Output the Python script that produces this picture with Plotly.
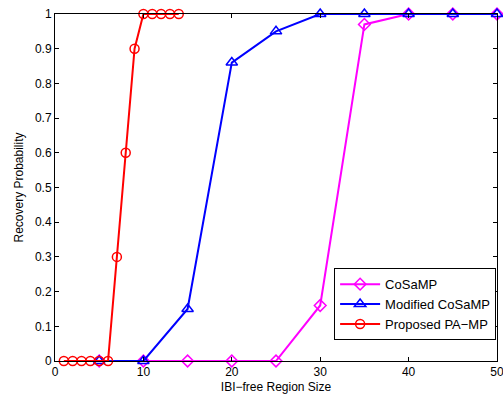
import plotly.graph_objects as go

x_cosamp = [5, 10, 15, 20, 25, 30, 35, 40, 45, 50]
y_cosamp = [0, 0, 0, 0, 0, 0.16, 0.97, 1, 1, 1]
x_mod = [5, 10, 15, 20, 25, 30, 35, 40, 45, 50]
y_mod = [0, 0, 0.15, 0.86, 0.95, 1, 1, 1, 1, 1]
x_pamp = [1, 2, 3, 4, 5, 6, 7, 8, 9, 10, 11, 12, 13, 14]
y_pamp = [0, 0, 0, 0, 0, 0, 0.3, 0.6, 0.9, 1, 1, 1, 1, 1]

fig = go.Figure()
fig.add_trace(go.Scatter(x=x_cosamp, y=y_cosamp, mode="lines+markers", name="CoSaMP",
                         cliponaxis=False,
                         line=dict(color="#ff00ff", width=2),
                         marker=dict(symbol="diamond-open", size=9, color="#ff00ff", line=dict(width=1.5))))
fig.add_trace(go.Scatter(x=x_mod, y=y_mod, mode="lines+markers", name="Modified CoSaMP",
                         cliponaxis=False,
                         line=dict(color="#0000ff", width=2),
                         marker=dict(symbol="triangle-up-open", size=10, color="#0000ff", line=dict(width=1.5))))
fig.add_trace(go.Scatter(x=x_pamp, y=y_pamp, mode="lines+markers", name="Proposed PA\u2212MP",
                         cliponaxis=False,
                         line=dict(color="#ff0000", width=2),
                         marker=dict(symbol="circle-open", size=9, color="#ff0000", line=dict(width=1.5))))

axis_common = dict(showline=True, linecolor="black", linewidth=1, mirror="ticks",
                   ticks="inside", ticklen=4, tickcolor="black", showgrid=False, zeroline=False,
                   ticklabeloverflow="allow", automargin=False,
                   tickfont=dict(family="Liberation Sans, Arial", size=12, color="black"))
fig.update_xaxes(range=[0, 50], tickvals=[0, 10, 20, 30, 40, 50],
                 title=dict(text="IBI\u2212free Region Size", standoff=4,
                            font=dict(family="Liberation Sans, Arial", size=12, color="black")),
                 **axis_common)
fig.update_yaxes(range=[0, 1], tickvals=[i / 10 for i in range(11)],
                 ticktext=["0", "0.1", "0.2", "0.3", "0.4", "0.5", "0.6", "0.7", "0.8", "0.9", "1"],
                 title=dict(text="Recovery Probability", standoff=8,
                            font=dict(family="Liberation Sans, Arial", size=12, color="black")),
                 **axis_common)
fig.update_layout(width=503, height=398, margin=dict(l=55, r=6, t=14, b=37),
                  paper_bgcolor="white", plot_bgcolor="white",
                  legend=dict(x=0.998, y=0.06, xanchor="right", yanchor="bottom",
                              bordercolor="black", borderwidth=1, bgcolor="white",
                              font=dict(family="Liberation Sans, Arial", size=13, color="black"),
                              tracegroupgap=0, itemwidth=40))
fig.write_html("out.html")
